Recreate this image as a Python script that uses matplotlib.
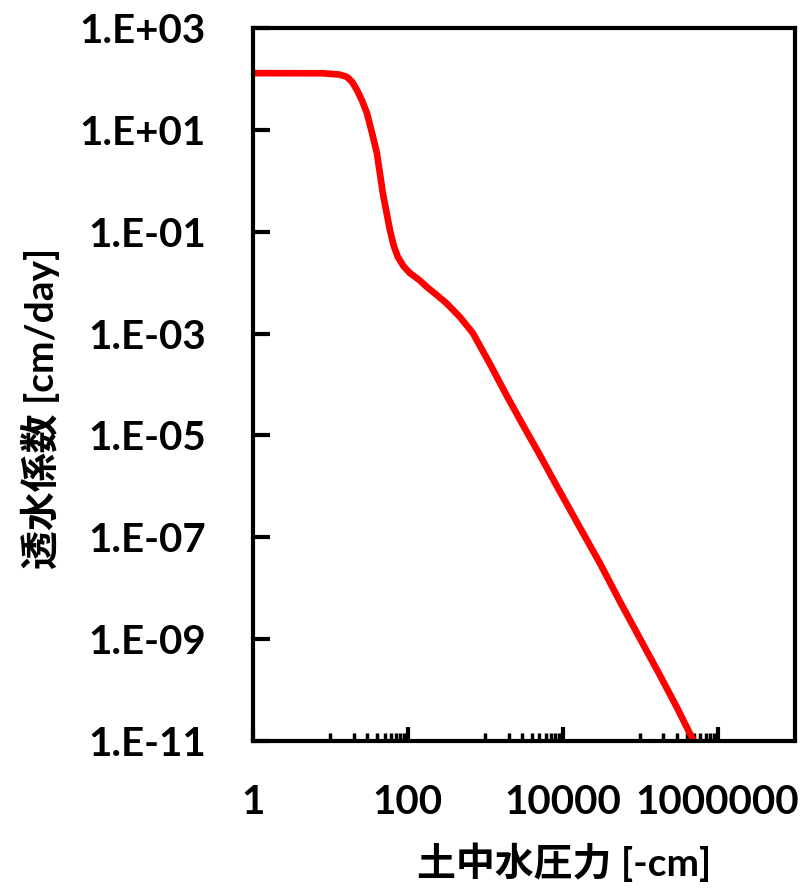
import numpy as np
import matplotlib
matplotlib.use("Agg")
import matplotlib.pyplot as plt
from matplotlib.ticker import FixedLocator, FixedFormatter, NullLocator, NullFormatter

# suction head [-cm] and hydraulic conductivity [cm/day]
head = [1, 8.0, 13.0, 16.3, 19.0, 22.0, 25.5, 29.6, 34.5, 39.8, 47.5, 58.6,
        66.0, 74.3, 88.0, 106, 140, 176, 240, 316, 469, 690, 1143, 1892,
        3048, 5047, 8375, 16560, 30000, 54330, 98620, 178600, 295800,
        462400, 631000]
cond = [130, 129, 122, 110, 88, 60.7, 38, 21.4, 8.6, 3.52, 0.575, 0.108,
        0.052, 0.0319, 0.021, 0.01545, 0.0113, 0.00822, 0.0056, 0.00393,
        0.00212, 0.001026, 2.57e-4, 6.03e-5, 1.62e-5, 4.17e-6, 1.02e-6,
        1.58e-7, 3.16e-8, 5.62e-9, 1.05e-9, 2.0e-10, 4.68e-11, 1.20e-11,
        4.79e-12]

x_ticks = [1, 100, 10000, 1000000]
x_labels = ["1", "100", "10000", "1000000"]
x_minor = [k * 10 ** p for p in (1, 3, 5) for k in range(1, 10)]
y_ticks = [1e3, 1e1, 1e-1, 1e-3, 1e-5, 1e-7, 1e-9, 1e-11]
y_labels = ["1.E+03", "1.E+01", "1.E-01", "1.E-03", "1.E-05", "1.E-07", "1.E-09", "1.E-11"]

fonts = ["Lato", "Noto Sans CJK JP", "DejaVu Sans"]
plt.rcParams["font.family"] = fonts

fig = plt.figure(figsize=(8.09, 8.93), dpi=100)
ax = fig.add_axes([253 / 809, 1 - 741 / 893, (795 - 253) / 809, (741 - 28) / 893])

ax.plot(head, cond, color="#ff0000", lw=4.8, solid_joinstyle="round", clip_on=True)

ax.set_xscale("log")
ax.set_yscale("log")
ax.set_xlim(1, 1e7)
ax.set_ylim(1e-11, 1e3)

ax.xaxis.set_major_locator(FixedLocator(x_ticks))
ax.xaxis.set_major_formatter(FixedFormatter(x_labels))
ax.xaxis.set_minor_locator(FixedLocator(x_minor))
ax.xaxis.set_minor_formatter(NullFormatter())
ax.yaxis.set_major_locator(FixedLocator(y_ticks))
ax.yaxis.set_major_formatter(FixedFormatter(y_labels))
ax.yaxis.set_minor_locator(NullLocator())

for s in ax.spines.values():
    s.set_linewidth(3.0)
ax.tick_params(axis="y", which="major", direction="in", length=12, width=3.0,
               labelsize=29, pad=34)
ax.tick_params(axis="x", which="major", direction="in", length=10, width=3.0,
               labelsize=29, pad=31)
ax.tick_params(axis="x", which="minor", direction="in", length=6, width=2.5)
for lab in ax.get_xticklabels() + ax.get_yticklabels():
    lab.set_fontweight("bold")

fig.text(564 / 809, 1 - 862 / 893, "土中水圧力 [-cm]", ha="center", va="center",
         fontsize=28, fontweight="bold")
fig.text(40 / 809, 1 - 408 / 893, "透水係数 [cm/day]", ha="center", va="center",
         rotation=90, fontsize=28, fontweight="bold")

fig.savefig("out.png", dpi=100)
